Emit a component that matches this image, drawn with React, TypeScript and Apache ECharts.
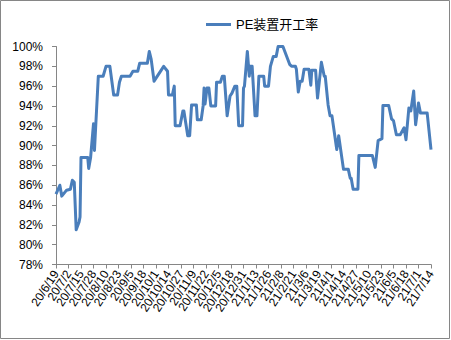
import React, { useEffect, useRef } from "react";
import * as echarts from "echarts";

const seriesName = "PE装置开工率";
const startDate = "2020-06-19";
const endDate = "2021-07-14";
const labelStep = 13;
const yTicks = [78, 80, 82, 84, 86, 88, 90, 92, 94, 96, 98, 100];

const dates = [
  "2020-06-19", "2020-06-23", "2020-06-25", "2020-06-30", "2020-07-04", "2020-07-06", "2020-07-08",
  "2020-07-10", "2020-07-13", "2020-07-14", "2020-07-15", "2020-07-22", "2020-07-23", "2020-07-25",
  "2020-07-28", "2020-07-29", "2020-08-02", "2020-08-07", "2020-08-10", "2020-08-14", "2020-08-18",
  "2020-08-22", "2020-08-24", "2020-08-26", "2020-09-04", "2020-09-07", "2020-09-12", "2020-09-14",
  "2020-09-22", "2020-09-24", "2020-09-26", "2020-09-29", "2020-10-09", "2020-10-13", "2020-10-14",
  "2020-10-18", "2020-10-20", "2020-10-21", "2020-10-26", "2020-10-29", "2020-10-30", "2020-11-03",
  "2020-11-05", "2020-11-07", "2020-11-12", "2020-11-13", "2020-11-17", "2020-11-19", "2020-11-20",
  "2020-11-21", "2020-11-23", "2020-11-25", "2020-11-27", "2020-12-02", "2020-12-03", "2020-12-07",
  "2020-12-09", "2020-12-11", "2020-12-14", "2020-12-17", "2020-12-19", "2020-12-22", "2020-12-24",
  "2020-12-26", "2020-12-30", "2020-12-31", "2021-01-01", "2021-01-04", "2021-01-06", "2021-01-07",
  "2021-01-09", "2021-01-12", "2021-01-14", "2021-01-16", "2021-01-21", "2021-01-22", "2021-01-26",
  "2021-01-28", "2021-01-31", "2021-02-03", "2021-02-05", "2021-02-10", "2021-02-17", "2021-02-19",
  "2021-02-23", "2021-02-24", "2021-02-26", "2021-02-28", "2021-03-02", "2021-03-04", "2021-03-09",
  "2021-03-11", "2021-03-12", "2021-03-16", "2021-03-18", "2021-03-22", "2021-03-25", "2021-03-26",
  "2021-03-29", "2021-03-31", "2021-04-02", "2021-04-07", "2021-04-09", "2021-04-14", "2021-04-19",
  "2021-04-21", "2021-04-22", "2021-04-24", "2021-04-29", "2021-04-30", "2021-05-14", "2021-05-17",
  "2021-05-20", "2021-05-24", "2021-05-25", "2021-05-31", "2021-06-03", "2021-06-05", "2021-06-08",
  "2021-06-12", "2021-06-16", "2021-06-18", "2021-06-21", "2021-06-23", "2021-06-26", "2021-06-28",
  "2021-07-01", "2021-07-03", "2021-07-10", "2021-07-14",
];

const values = [
  85.1, 86.0, 84.9, 85.5, 85.6, 86.5, 86.3,
  81.5, 82.3, 82.8, 88.8, 88.8, 87.7, 88.8,
  92.2, 89.5, 97.0, 97.0, 98.0, 98.0, 95.1,
  95.1, 96.4, 97.0, 97.0, 97.5, 97.5, 98.3,
  98.3, 99.5, 98.7, 96.5, 98.0, 97.5, 95.1,
  95.1, 96.0, 92.0, 92.0, 93.5, 93.5, 91.0,
  91.0, 94.1, 94.1, 92.6, 92.6, 94.0, 95.8,
  94.2, 95.8, 95.8, 94.0, 94.0, 96.4, 96.4,
  97.0, 97.0, 93.0, 95.0, 95.3, 96.0, 96.0,
  92.0, 92.0, 95.8, 96.0, 99.5, 97.0, 98.0,
  98.0, 93.0, 93.0, 97.0, 97.0, 96.0, 96.0,
  98.0, 99.0, 99.0, 100.0, 100.0, 98.2, 98.0,
  98.0, 97.7, 95.4, 96.5, 96.5, 97.7, 97.7,
  96.1, 97.6, 97.6, 94.8, 98.4, 97.0, 97.0,
  94.1, 93.0, 93.0, 89.6, 91.0, 87.6, 87.6,
  86.7, 86.7, 85.6, 85.6, 89.0, 89.0, 87.8,
  90.5, 90.7, 94.05, 94.05, 92.7, 92.5, 91.1,
  91.1, 91.8, 90.6, 93.8, 93.5, 95.5, 92.1,
  94.3, 93.3, 93.3, 89.6,
];

const DAY = 86400000;
const t0 = Date.parse(startDate);
const t1 = Date.parse(endDate);
const pad = (n: number) => String(n).padStart(2, "0");
const isoOf = (t: number) => {
  const d = new Date(t);
  return `${d.getUTCFullYear()}-${pad(d.getUTCMonth() + 1)}-${pad(d.getUTCDate())}`;
};
// every calendar day of the axis (category axis of a date-based chart)
const allDays: string[] = [];
for (let t = t0; t <= t1; t += DAY) allDays.push(isoOf(t));

const shortLabel = (iso: string) => {
  const [y, m, d] = iso.split("-");
  return `${y.slice(2)}/${Number(m)}/${Number(d)}`;
};

const FONT = "'Liberation Sans', 'Noto Sans CJK SC', sans-serif";

export default function App() {
  const ref = useRef<HTMLDivElement>(null);
  useEffect(() => {
    document.body.style.margin = "0";
    const chart = echarts.init(ref.current!, undefined, { renderer: "svg" });
    chart.setOption({
      animation: false,
      backgroundColor: "#ffffff",
      textStyle: { fontFamily: FONT },
      graphic: [
        {
          type: "rect",
          shape: { x: 0.5, y: 0.5, width: 449, height: 338 },
          style: { fill: "none", stroke: "#868686", lineWidth: 1 },
          silent: true,
        },
      ],
      legend: {
        data: [seriesName],
        left: 201,
        top: 13,
        icon: "rect",
        itemWidth: 25,
        itemHeight: 3,
        textStyle: { fontSize: 13, color: "#000", fontFamily: FONT },
      },
      grid: { left: 56, right: 20, top: 46.5, bottom: 75.5, containLabel: false },
      xAxis: {
        type: "category",
        data: allDays,
        boundaryGap: false,
        axisLine: { lineStyle: { color: "#868686", width: 1 } },
        axisTick: {
          show: true,
          length: 4,
          interval: labelStep - 1,
          lineStyle: { color: "#868686" },
        },
        splitLine: { show: false },
        axisLabel: {
          interval: 0,
          formatter: (v: string, i: number) => (i % labelStep === 0 ? shortLabel(v) : ""),
          rotate: 57,
          margin: 7,
          fontSize: 12,
          color: "#000",
          fontFamily: FONT,
          hideOverlap: false,
        },
      },
      yAxis: {
        type: "value",
        min: yTicks[0],
        max: yTicks[yTicks.length - 1],
        interval: 2,
        axisLine: { show: true, lineStyle: { color: "#868686", width: 1 } },
        axisTick: { show: true, length: 4, lineStyle: { color: "#868686" } },
        splitLine: { show: false },
        axisLabel: {
          formatter: (v: number) => `${v}%`,
          margin: 13,
          fontSize: 12,
          color: "#000",
          fontFamily: FONT,
          hideOverlap: false,
        },
      },
      series: [
        {
          name: seriesName,
          type: "line",
          data: dates.map((d, i) => [d, values[i]]),
          showSymbol: false,
          symbol: "none",
          lineStyle: { color: "#4A7EBB", width: 3, join: "round" },
          itemStyle: { color: "#4A7EBB" },
        },
      ],
    });
    return () => chart.dispose();
  }, []);
  return <div ref={ref} style={{ width: 451, height: 340 }} />;
}
